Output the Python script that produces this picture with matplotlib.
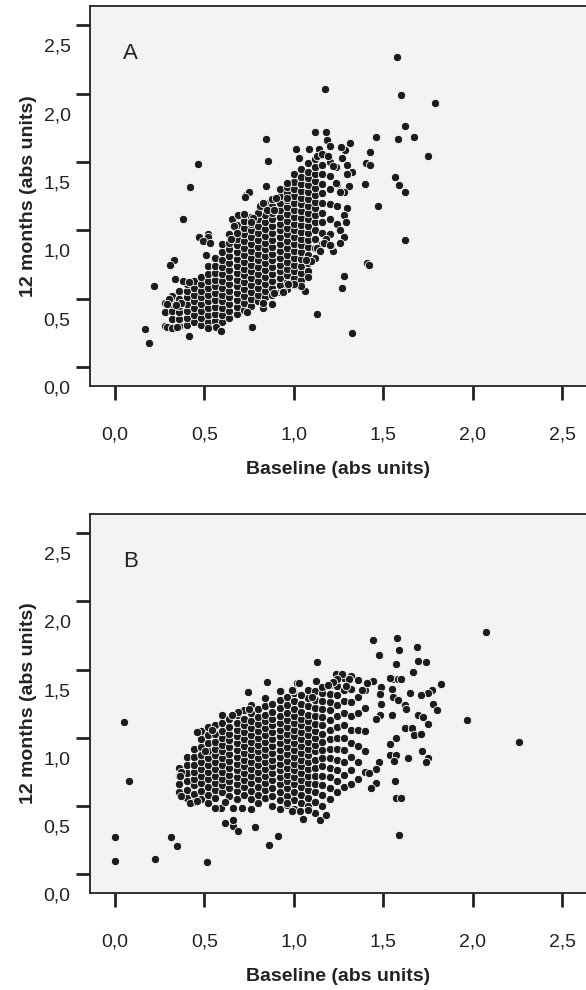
import matplotlib
matplotlib.use('Agg')
import matplotlib.pyplot as plt
import matplotlib.transforms as mtransforms

plt.rcParams['font.family'] = ['Liberation Sans', 'DejaVu Sans']

# tick values / labels (comma decimals as in the source)
TICKS = [0.0, 0.5, 1.0, 1.5, 2.0, 2.5]
TICK_LABELS = ['0,0', '0,5', '1,0', '1,5', '2,0', '2,5']
X_LABEL = 'Baseline (abs units)'
Y_LABEL = '12 months (abs units)'

# ---- panel A: dense core, read column by column (baseline -> 12 month values)
a_core_x = [0.28, 0.32, 0.36, 0.40, 0.44, 0.48, 0.52, 0.56, 0.60, 0.64, 0.68,
            0.72, 0.76, 0.80, 0.84, 0.88, 0.92, 0.96, 1.00, 1.04, 1.08, 1.12,
            1.16, 1.20, 1.24]
a_core_y = [
    [0.30, 0.40, 0.47],
    [0.29, 0.35, 0.41, 0.46, 0.52],
    [0.30, 0.35, 0.40, 0.45, 0.50, 0.56],
    [0.31, 0.36, 0.41, 0.46, 0.51, 0.56, 0.61],
    [0.33, 0.38, 0.43, 0.48, 0.53, 0.58, 0.63],
    [0.31, 0.36, 0.41, 0.46, 0.51, 0.56, 0.61, 0.66],
    [0.33, 0.38, 0.43, 0.48, 0.53, 0.58, 0.63, 0.68, 0.74],
    [0.34, 0.39, 0.44, 0.49, 0.54, 0.59, 0.64, 0.69, 0.74, 0.80],
    [0.33, 0.38, 0.43, 0.48, 0.53, 0.58, 0.63, 0.68, 0.73, 0.78, 0.84, 0.90],
    [0.36, 0.41, 0.46, 0.51, 0.56, 0.61, 0.66, 0.71, 0.76, 0.81, 0.86, 0.91, 0.97],
    [0.39, 0.44, 0.49, 0.54, 0.59, 0.64, 0.69, 0.74, 0.79, 0.84, 0.89, 0.94, 0.99, 1.04],
    [0.42, 0.47, 0.52, 0.57, 0.62, 0.67, 0.72, 0.77, 0.82, 0.87, 0.92, 0.97, 1.02, 1.07],
    [0.45, 0.50, 0.55, 0.60, 0.65, 0.70, 0.75, 0.80, 0.85, 0.90, 0.95, 1.00, 1.05, 1.10],
    [0.48, 0.53, 0.58, 0.63, 0.68, 0.73, 0.78, 0.83, 0.88, 0.93, 0.98, 1.03, 1.08, 1.13],
    [0.51, 0.56, 0.61, 0.66, 0.71, 0.76, 0.81, 0.86, 0.91, 0.96, 1.01, 1.06, 1.11, 1.16, 1.20],
    [0.53, 0.58, 0.63, 0.68, 0.73, 0.78, 0.83, 0.88, 0.93, 0.98, 1.03, 1.08, 1.13, 1.18, 1.23],
    [0.55, 0.60, 0.65, 0.70, 0.75, 0.80, 0.85, 0.90, 0.95, 1.00, 1.05, 1.10, 1.15, 1.20, 1.25, 1.30],
    [0.57, 0.62, 0.67, 0.72, 0.77, 0.82, 0.87, 0.92, 0.97, 1.02, 1.07, 1.12, 1.17, 1.22, 1.27, 1.32],
    [0.60, 0.65, 0.70, 0.75, 0.80, 0.85, 0.90, 0.95, 1.00, 1.05, 1.10, 1.15, 1.20, 1.25, 1.30, 1.35, 1.41],
    [0.64, 0.69, 0.74, 0.79, 0.84, 0.89, 0.94, 0.99, 1.04, 1.09, 1.14, 1.19, 1.24, 1.29, 1.34, 1.39, 1.45],
    [0.70, 0.76, 0.82, 0.88, 0.93, 0.98, 1.03, 1.08, 1.13, 1.18, 1.23, 1.28, 1.33, 1.38, 1.43, 1.49],
    [0.80, 0.87, 0.94, 1.00, 1.06, 1.11, 1.16, 1.21, 1.26, 1.31, 1.36, 1.41, 1.46, 1.52],
    [0.90, 0.98, 1.06, 1.13, 1.20, 1.27, 1.34, 1.41, 1.48, 1.55],
    [0.97, 1.08, 1.19, 1.30, 1.40, 1.50],
    [1.05, 1.18, 1.34],
]

# panel A: scattered points around the core
a_outer_x = [1.575, 1.174, 1.598, 1.79, 1.62, 1.58, 1.67, 1.46, 1.75, 1.425, 1.406, 1.425,
             1.40, 1.564, 1.587, 1.62, 1.473, 1.62, 1.41, 1.42, 1.278, 1.27, 1.128, 1.328,
             1.116, 1.18, 1.184, 1.20, 1.313, 1.287, 1.265, 1.27, 1.30, 1.324, 1.30, 1.235,
             1.22, 1.013, 1.082, 1.14, 1.03, 1.13, 1.16, 1.19, 1.238, 1.307, 1.28, 1.26,
             1.30, 1.28, 1.294, 1.257, 1.28, 1.257, 1.22, 1.21, 1.18, 1.08, 1.06, 1.04,
             1.00, 0.97, 0.94, 1.095, 1.07, 1.13, 1.145, 1.17, 1.20,
             0.847, 0.853, 0.466, 0.419, 0.845, 0.96, 0.735, 0.75, 0.727, 0.378, 0.47, 0.52,
             0.52, 0.49, 0.53, 0.507, 0.33, 0.31, 0.218, 0.17, 0.19, 0.415, 0.765, 0.518,
             0.566, 0.59, 0.29, 0.32, 0.345, 0.30, 0.36, 0.37, 0.29, 0.34, 0.335, 0.38,
             0.415, 0.83, 0.83, 0.74, 0.88, 0.89, 0.94, 0.655, 0.69, 0.72, 0.665, 0.68,
             0.65, 0.80, 0.77, 0.76, 0.81, 0.83, 0.85, 0.90, 0.89, 0.96]
a_outer_y = [2.27, 2.03, 1.99, 1.93, 1.76, 1.67, 1.68, 1.68, 1.54, 1.57, 1.495, 1.48,
             1.34, 1.39, 1.335, 1.28, 1.18, 0.93, 0.76, 0.745, 0.668, 0.578, 0.388, 0.252,
             1.72, 1.72, 1.66, 1.62, 1.64, 1.59, 1.61, 1.53, 1.48, 1.425, 1.41, 1.465,
             1.47, 1.595, 1.595, 1.595, 1.53, 1.545, 1.56, 1.54, 1.345, 1.325, 1.28, 1.28,
             1.16, 1.11, 1.06, 1.00, 0.955, 0.905, 0.85, 0.89, 0.94, 0.66, 0.56, 0.59,
             0.61, 0.61, 0.546, 0.775, 0.78, 0.87, 0.85, 0.91, 0.89,
             1.668, 1.507, 1.485, 1.315, 1.325, 1.345, 1.26, 1.28, 1.245, 1.08, 0.955, 0.975,
             0.95, 0.92, 0.91, 0.82, 0.78, 0.745, 0.59, 0.28, 0.18, 0.225, 0.29, 0.285,
             0.29, 0.265, 0.29, 0.285, 0.29, 0.50, 0.50, 0.47, 0.46, 0.455, 0.645, 0.63,
             0.625, 0.43, 0.47, 0.40, 0.46, 0.54, 0.55, 1.08, 1.11, 1.12, 1.03, 0.98,
             0.94, 1.13, 1.09, 1.06, 1.18, 1.20, 1.15, 1.24, 1.15, 1.24]

# ---- panel B: dense core
b_core_x = [0.36, 0.40, 0.44, 0.48, 0.52, 0.56, 0.60, 0.64, 0.68, 0.72, 0.76,
            0.80, 0.84, 0.88, 0.92, 0.96, 1.00, 1.04, 1.08, 1.12, 1.16, 1.20,
            1.24, 1.28, 1.32, 1.36, 1.40]
b_core_y = [
    [0.60, 0.66, 0.72, 0.78],
    [0.56, 0.62, 0.68, 0.74, 0.80, 0.86],
    [0.53, 0.59, 0.65, 0.70, 0.75, 0.80, 0.86, 0.92],
    [0.55, 0.61, 0.67, 0.72, 0.77, 0.82, 0.87, 0.93, 0.99, 1.05],
    [0.52, 0.58, 0.64, 0.70, 0.75, 0.80, 0.85, 0.90, 0.96, 1.02, 1.08],
    [0.56, 0.62, 0.67, 0.72, 0.77, 0.82, 0.87, 0.92, 0.97, 1.03, 1.09],
    [0.60, 0.65, 0.70, 0.75, 0.80, 0.85, 0.90, 0.95, 1.00, 1.05, 1.11, 1.17],
    [0.57, 0.63, 0.68, 0.73, 0.78, 0.83, 0.88, 0.93, 0.98, 1.03, 1.08, 1.14],
    [0.55, 0.61, 0.66, 0.71, 0.76, 0.81, 0.86, 0.91, 0.96, 1.01, 1.06, 1.11, 1.17],
    [0.58, 0.64, 0.69, 0.74, 0.79, 0.84, 0.89, 0.94, 0.99, 1.04, 1.09, 1.14, 1.20],
    [0.55, 0.61, 0.67, 0.72, 0.77, 0.82, 0.87, 0.92, 0.97, 1.02, 1.07, 1.12, 1.18, 1.24],
    [0.52, 0.58, 0.64, 0.70, 0.75, 0.80, 0.85, 0.90, 0.95, 1.00, 1.05, 1.10, 1.15, 1.21],
    [0.56, 0.62, 0.67, 0.72, 0.77, 0.82, 0.87, 0.92, 0.97, 1.02, 1.07, 1.12, 1.17, 1.23, 1.29],
    [0.50, 0.57, 0.63, 0.69, 0.74, 0.79, 0.84, 0.89, 0.94, 0.99, 1.04, 1.09, 1.14, 1.19, 1.25],
    [0.48, 0.54, 0.60, 0.66, 0.71, 0.76, 0.81, 0.86, 0.91, 0.96, 1.01, 1.06, 1.11, 1.16, 1.22, 1.28],
    [0.51, 0.57, 0.63, 0.68, 0.73, 0.78, 0.83, 0.88, 0.93, 0.98, 1.03, 1.08, 1.13, 1.18, 1.24, 1.30],
    [0.48, 0.54, 0.60, 0.66, 0.71, 0.76, 0.81, 0.86, 0.91, 0.96, 1.01, 1.06, 1.11, 1.16, 1.21, 1.27, 1.33],
    [0.52, 0.58, 0.64, 0.69, 0.74, 0.79, 0.84, 0.89, 0.94, 0.99, 1.04, 1.09, 1.14, 1.19, 1.25, 1.31],
    [0.50, 0.56, 0.62, 0.67, 0.72, 0.77, 0.82, 0.87, 0.92, 0.97, 1.02, 1.07, 1.12, 1.17, 1.23, 1.29, 1.35],
    [0.45, 0.53, 0.60, 0.66, 0.72, 0.78, 0.84, 0.90, 0.95, 1.00, 1.05, 1.10, 1.16, 1.22, 1.28, 1.34],
    [0.50, 0.58, 0.65, 0.72, 0.79, 0.85, 0.91, 0.97, 1.03, 1.09, 1.15, 1.21, 1.27, 1.33],
    [0.55, 0.63, 0.71, 0.78, 0.85, 0.92, 0.99, 1.06, 1.13, 1.20, 1.26, 1.32, 1.39],
    [0.60, 0.68, 0.76, 0.84, 0.92, 1.00, 1.08, 1.16, 1.24, 1.31, 1.38],
    [0.64, 0.73, 0.82, 0.91, 1.00, 1.09, 1.18, 1.27, 1.35, 1.44],
    [0.66, 0.76, 0.86, 0.96, 1.06, 1.16, 1.26, 1.36, 1.45],
    [0.70, 0.82, 0.94, 1.06, 1.18, 1.30, 1.42],
    [0.75, 0.90, 1.05, 1.22, 1.35],
]

# panel B: scattered points
b_outer_x = [0.00, 0.00, 0.225, 0.315, 0.346, 0.514, 0.616, 0.661, 0.685, 0.661, 0.782,
             0.859, 0.909, 0.592, 0.616, 0.42, 0.46, 0.96, 0.99, 1.588, 0.05, 0.078,
             0.456, 0.369, 0.365, 0.369, 0.851, 0.741, 0.685, 0.655, 0.75, 0.927, 0.996,
             1.02, 0.503, 0.54, 0.56, 0.66, 0.71, 0.76,
             2.077, 2.257, 1.968, 1.443, 1.576, 1.475, 1.59, 1.69, 1.697, 1.74, 1.572,
             1.665, 1.127, 1.825, 1.775, 1.75, 1.71, 1.648, 1.778, 1.80, 1.694, 1.72,
             1.752, 1.62, 1.66, 1.67, 1.71, 1.57, 1.54, 1.637, 1.715, 1.75, 1.74, 1.536,
             1.57, 1.56, 1.564, 1.574, 1.60, 1.458, 1.43, 1.477, 1.46, 1.42, 1.149, 1.18,
             1.05, 1.037, 1.08,
             1.555, 1.58, 1.60, 1.54, 1.55, 1.556, 1.58, 1.62, 1.63, 1.49, 1.48, 1.49,
             1.48, 1.46, 1.55, 1.443, 1.41, 1.38, 1.31, 1.29, 1.233, 1.27, 1.24, 1.22,
             1.125, 1.16, 1.19, 1.03, 0.99, 1.04, 1.10, 0.92]
b_outer_y = [0.275, 0.093, 0.108, 0.27, 0.204, 0.086, 0.377, 0.353, 0.318, 0.40, 0.343,
             0.213, 0.282, 0.487, 0.53, 0.52, 0.535, 0.52, 0.46, 0.287, 1.118, 0.686,
             1.04, 0.75, 0.72, 0.574, 1.41, 1.336, 1.19, 1.17, 1.21, 1.34, 1.35,
             1.40, 0.90, 1.06, 0.485, 0.485, 0.485, 0.48,
             1.775, 0.97, 1.127, 1.715, 1.733, 1.608, 1.64, 1.667, 1.56, 1.555, 1.54,
             1.48, 1.554, 1.395, 1.353, 1.325, 1.31, 1.33, 1.245, 1.20, 1.17, 1.15,
             1.10, 1.07, 1.07, 1.02, 1.03, 1.00, 0.956, 0.855, 0.905, 0.85, 0.825, 0.87,
             0.875, 0.83, 0.684, 0.56, 0.56, 0.667, 0.63, 0.82, 0.77, 0.74, 0.40, 0.43,
             0.405, 0.463, 0.47,
             1.43, 1.43, 1.43, 1.44, 1.36, 1.30, 1.28, 1.24, 1.21, 1.37, 1.32, 1.25,
             1.17, 1.14, 1.17, 1.417, 1.40, 1.35, 1.43, 1.38, 1.47, 1.47, 1.43, 1.41,
             1.417, 1.37, 1.39, 1.40, 1.35, 1.31, 1.30, 1.34]

BG = '#f2f4f3'
INK = '#1c1c1c'


def flatten(col_x, col_y):
    xs, ys = [], []
    for x, col in zip(col_x, col_y):
        xs += [x] * len(col)
        ys += col
    return xs, ys


def panel(fig, rect, core_x, core_y, outer_x, outer_y, letter):
    ax = fig.add_axes(rect)
    ax.set_facecolor(BG)
    cx, cy = flatten(core_x, core_y)
    ax.scatter(cx, cy, s=36, c=INK, edgecolors='white', linewidths=0.6, zorder=3)
    ax.scatter(outer_x, outer_y, s=36, c=INK, edgecolors='white', linewidths=0.6, zorder=3)

    ax.set_xlim(-0.14, 2.634)
    ax.set_ylim(-0.138, 2.64)
    for side in ['top', 'left', 'bottom']:
        ax.spines[side].set_linewidth(1.3)
        ax.spines[side].set_color('#222222')
    ax.spines['right'].set_visible(False)

    ax.tick_params(direction='out', length=10, width=2, color='#222222',
                   labelsize=14, labelcolor='#222222')
    ax.tick_params(axis='x', pad=19)
    ax.tick_params(axis='y', pad=4)
    ax.set_xticks(TICKS, TICK_LABELS)
    ax.set_yticks(TICKS, TICK_LABELS)
    # y labels sit a little below their ticks in the original
    shift = mtransforms.ScaledTranslation(0, -0.20, fig.dpi_scale_trans)
    for lab in ax.get_yticklabels():
        lab.set_transform(lab.get_transform() + shift)

    ax.set_xlabel(X_LABEL, fontsize=14, fontweight='bold', color='#222222', labelpad=13)
    ax.set_ylabel(Y_LABEL, fontsize=14, fontweight='bold', color='#222222', labelpad=5)
    ax.text(0.081, 0.876, letter, transform=ax.transAxes, fontsize=16,
            ha='center', va='center', color='#222222')
    return ax


fig = plt.figure(figsize=(5.86, 9.9), dpi=100)
panel(fig, [0.1536, 0.6101, 0.8464, 0.3838], a_core_x, a_core_y, a_outer_x, a_outer_y, 'A')
panel(fig, [0.1536, 0.0980, 0.8464, 0.3828], b_core_x, b_core_y, b_outer_x, b_outer_y, 'B')
fig.savefig('out.png', dpi=100, facecolor='white')
